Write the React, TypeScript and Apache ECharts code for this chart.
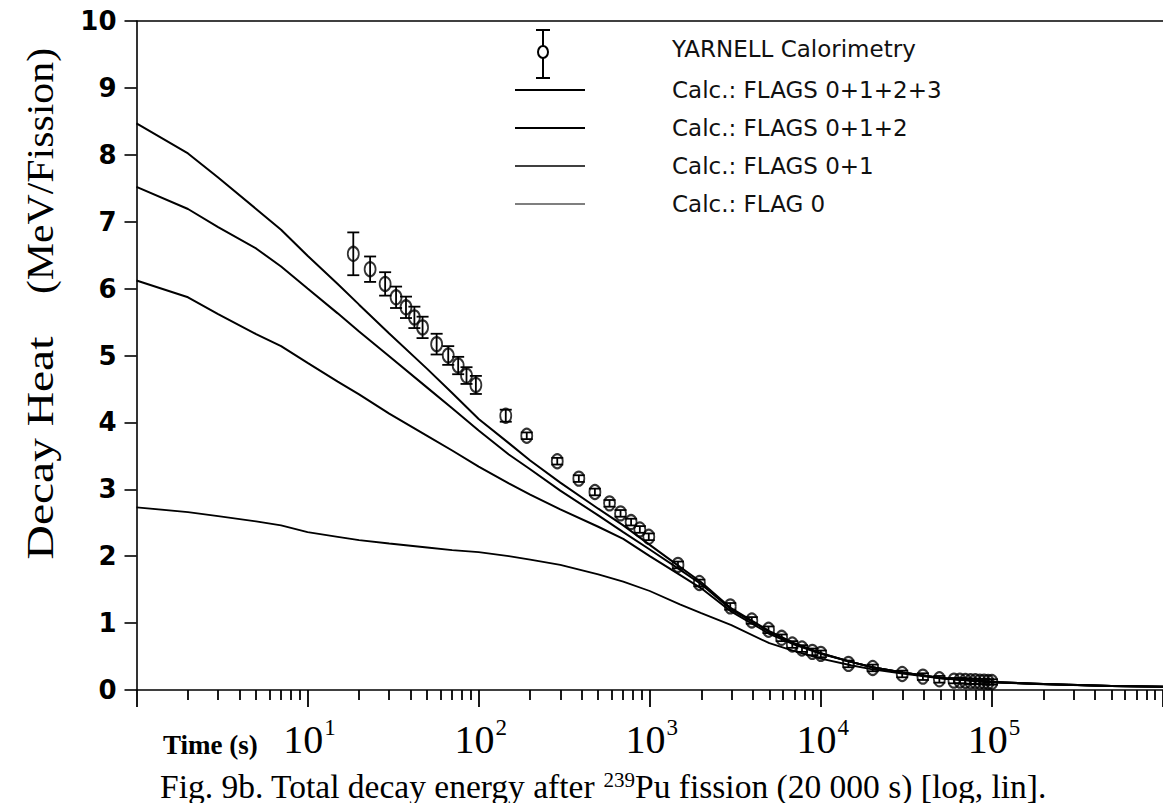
import React, { useEffect, useRef } from "react";
import * as echarts from "echarts";

// ---- data ----
const curveTimes = [1, 2, 3, 5, 7, 10, 15, 20, 30, 50, 70, 100, 150, 200, 300, 500, 700, 1000, 1500, 2000, 3000, 5000, 7000, 10000, 15000, 20000, 30000, 50000, 100000, 200000, 500000, 1000000];
const flags0123 = [8.47, 8.02, 7.66, 7.19, 6.88, 6.49, 6.07, 5.76, 5.33, 4.8, 4.44, 4.05, 3.69, 3.43, 3.1, 2.71, 2.46, 2.17, 1.84, 1.61, 1.22, 0.88, 0.7, 0.55, 0.42, 0.34, 0.26, 0.18, 0.12, 0.09, 0.06, 0.05];
const flags012 = [7.52, 7.19, 6.92, 6.6, 6.33, 6.0, 5.63, 5.36, 4.99, 4.52, 4.21, 3.88, 3.52, 3.3, 2.98, 2.61, 2.36, 2.1, 1.8, 1.58, 1.2, 0.87, 0.69, 0.55, 0.42, 0.34, 0.26, 0.18, 0.12, 0.09, 0.06, 0.05];
const flags01 = [6.12, 5.87, 5.62, 5.32, 5.14, 4.89, 4.61, 4.42, 4.13, 3.8, 3.58, 3.34, 3.09, 2.92, 2.7, 2.44, 2.26, 2.0, 1.72, 1.52, 1.17, 0.84, 0.68, 0.54, 0.42, 0.34, 0.26, 0.18, 0.12, 0.09, 0.06, 0.05];
const flag0 = [2.73, 2.66, 2.6, 2.52, 2.46, 2.36, 2.29, 2.24, 2.19, 2.13, 2.09, 2.06, 2.0, 1.95, 1.87, 1.73, 1.62, 1.48, 1.28, 1.15, 0.97, 0.7, 0.58, 0.47, 0.37, 0.31, 0.245, 0.175, 0.115, 0.085, 0.06, 0.05];

const yarnellTimes = [18.5, 23.2, 28.4, 32.9, 37.6, 42.1, 47.0, 56.8, 66.4, 75.9, 84.9, 96.3, 144, 191, 288, 385, 478, 582, 675, 778, 875, 987, 1462, 1950, 2955, 3950, 4945, 5900, 6810, 7760, 8920, 10000, 14500, 20100, 29900, 39500, 49300, 60000, 65000, 70000, 75000, 80000, 85000, 90000, 95000, 100000];
const yarnellHeat = [6.52, 6.29, 6.07, 5.87, 5.72, 5.57, 5.42, 5.17, 5.0, 4.85, 4.7, 4.56, 4.1, 3.8, 3.42, 3.16, 2.96, 2.79, 2.64, 2.51, 2.4, 2.29, 1.87, 1.6, 1.25, 1.04, 0.9, 0.78, 0.68, 0.62, 0.57, 0.54, 0.39, 0.33, 0.24, 0.2, 0.16, 0.14, 0.14, 0.135, 0.13, 0.13, 0.125, 0.125, 0.12, 0.12];
const yarnellError = [0.32, 0.19, 0.175, 0.16, 0.16, 0.16, 0.16, 0.155, 0.14, 0.13, 0.125, 0.135, 0.09, 0.05, 0.05, 0.05, 0.05, 0.05, 0.05, 0.05, 0.05, 0.05, 0.05, 0.05, 0.05, 0.05, 0.05, 0.05, 0.05, 0.05, 0.05, 0.05, 0.05, 0.05, 0.05, 0.05, 0.05, 0.04, 0.04, 0.04, 0.04, 0.04, 0.04, 0.04, 0.04, 0.04];

const xLabelValues = [10, 100, 1000, 10000, 100000];
const xMajorTicks = [1, 10, 100, 1000, 10000, 100000, 1000000];
const xMinorTicks = [
  2, 3, 4, 5, 6, 7, 8, 9,
  20, 30, 40, 50, 60, 70, 80, 90,
  200, 300, 400, 500, 600, 700, 800, 900,
  2000, 3000, 4000, 5000, 6000, 7000, 8000, 9000,
  20000, 30000, 40000, 50000, 60000, 70000, 80000, 90000,
  200000, 300000, 400000, 500000, 600000, 700000, 800000, 900000,
];
const legendLabels = [
  "YARNELL Calorimetry",
  "Calc.: FLAGS 0+1+2+3",
  "Calc.: FLAGS 0+1+2",
  "Calc.: FLAGS 0+1",
  "Calc.: FLAG 0",
];
const seriesNames = legendLabels;

const GRID = { left: 136.5, top: 21, width: 1029, height: 669 };
const SERIF = "Liberation Serif";
const SANS = "DejaVu Sans";

function pairs(xs: number[], ys: number[]) {
  return xs.map((x, i) => [x, ys[i]]);
}

function buildOption(): any {
  const lineStyle = (w: number) => ({ color: "#000", width: w });
  const curve = (name: string, ys: number[], w: number) => ({
    name,
    type: "line",
    xAxisIndex: 0,
    yAxisIndex: 0,
    data: pairs(curveTimes, ys),
    showSymbol: false,
    symbol: "none",
    lineStyle: lineStyle(w),
    z: 3,
  });

  const legendRowsY = [49, 90, 128, 166, 204];
  const legendLineX1 = 515;
  const legendLineX2 = 585;
  const legendTextX = 672;
  const legendGraphics: any[] = [];
  legendGraphics.push(
    { type: "line", shape: { x1: 543, y1: 30, x2: 543, y2: 78 }, style: { stroke: "#000", lineWidth: 2 } },
    { type: "line", shape: { x1: 536, y1: 30, x2: 550, y2: 30 }, style: { stroke: "#000", lineWidth: 2 } },
    { type: "line", shape: { x1: 536, y1: 78, x2: 550, y2: 78 }, style: { stroke: "#000", lineWidth: 2 } },
    { type: "ellipse", shape: { cx: 543, cy: 52, rx: 5, ry: 6 }, style: { stroke: "#000", fill: "#fff", lineWidth: 2 } }
  );
  const legendWidths = [2, 1.8, 1.6, 1.2];
  for (let i = 1; i < legendLabels.length; i++) {
    legendGraphics.push({
      type: "line",
      shape: { x1: legendLineX1, y1: legendRowsY[i], x2: legendLineX2, y2: legendRowsY[i] },
      style: { stroke: "#000", lineWidth: legendWidths[i - 1] },
    });
  }
  for (let i = 0; i < legendLabels.length; i++) {
    legendGraphics.push({
      type: "text",
      x: legendTextX,
      y: legendRowsY[i],
      style: {
        text: legendLabels[i],
        fontFamily: SANS,
        fontSize: 23,
        fill: "#111",
        verticalAlign: "middle",
        align: "left",
      },
    });
  }

  return {
    animation: false,
    backgroundColor: "#fff",
    grid: [
      { ...GRID, containLabel: false },
      { ...GRID, containLabel: false },
    ],
    xAxis: [
      {
        type: "log",
        logBase: 10,
        min: 1,
        max: 1000000,
        gridIndex: 0,
        position: "bottom",
        axisLine: { show: true, lineStyle: { color: "#000", width: 1.6 } },
        axisTick: { show: true, inside: false, length: 17, customValues: xMajorTicks, lineStyle: { color: "#000", width: 1.8 } },
        axisLabel: {
          show: true,
          customValues: xLabelValues,
          margin: 26,
          fontFamily: SERIF,
          fontSize: 40,
          color: "#000",
          formatter: (v: number) => `{b|10}{s|${Math.round(Math.log10(v))}}`,
          rich: {
            b: { fontFamily: SERIF, fontSize: 40, color: "#000", lineHeight: 40, padding: [6, 0, 0, 4] },
            s: { fontFamily: SERIF, fontSize: 23, color: "#000", lineHeight: 22, verticalAlign: "top", padding: [0, 0, 0, 1] },
          },
        },
        splitLine: { show: false },
        minorTick: { show: false },
      },
      {
        type: "log",
        logBase: 10,
        min: 1,
        max: 1000000,
        gridIndex: 1,
        position: "bottom",
        axisLine: { show: false },
        axisTick: { show: true, inside: false, length: 10, customValues: xMinorTicks, lineStyle: { color: "#000", width: 1.8 } },
        axisLabel: { show: false },
        splitLine: { show: false },
      },
      {
        type: "log",
        logBase: 10,
        min: 1,
        max: 1000000,
        gridIndex: 0,
        position: "top",
        axisLine: { show: true, lineStyle: { color: "#000", width: 1.6 } },
        axisTick: { show: false },
        axisLabel: { show: false },
        splitLine: { show: false },
      },
    ],
    yAxis: [
      {
        type: "value",
        gridIndex: 0,
        min: 0,
        max: 10,
        interval: 1,
        axisLine: { show: true, lineStyle: { color: "#000", width: 1.6 } },
        axisTick: { show: true, inside: false, length: 12, lineStyle: { color: "#000", width: 1.6 } },
        axisLabel: { show: true, margin: 20, fontFamily: SANS, fontWeight: "bold", fontSize: 26, color: "#000" },
        splitLine: { show: false },
      },
      {
        type: "value",
        gridIndex: 1,
        min: 0,
        max: 10,
        interval: 1,
        show: false,
      },
    ],
    series: [
      curve(seriesNames[1], flags0123, 2),
      curve(seriesNames[2], flags012, 2),
      curve(seriesNames[3], flags01, 2),
      curve(seriesNames[4], flag0, 1.8),
      {
        name: seriesNames[0] + " error",
        type: "custom",
        xAxisIndex: 0,
        yAxisIndex: 0,
        data: yarnellTimes.map((t, i) => [t, yarnellHeat[i], yarnellError[i]]),
        encode: { x: 0, y: 1 },
        z: 4,
        renderItem: (_params: any, api: any) => {
          const t = api.value(0);
          const y = api.value(1);
          const e = api.value(2);
          const top = api.coord([t, y + e]);
          const bot = api.coord([t, y - e]);
          const hw = 6;
          const st = { stroke: "#000", lineWidth: 1.8 };
          return {
            type: "group",
            children: [
              { type: "line", shape: { x1: top[0], y1: top[1], x2: bot[0], y2: bot[1] }, style: st },
              { type: "line", shape: { x1: top[0] - hw, y1: top[1], x2: top[0] + hw, y2: top[1] }, style: st },
              { type: "line", shape: { x1: bot[0] - hw, y1: bot[1], x2: bot[0] + hw, y2: bot[1] }, style: st },
            ],
          };
        },
      },
      {
        name: seriesNames[0],
        type: "scatter",
        xAxisIndex: 0,
        yAxisIndex: 0,
        data: pairs(yarnellTimes, yarnellHeat),
        symbol: "circle",
        symbolSize: [11, 14],
        itemStyle: { color: "rgba(0,0,0,0)", borderColor: "#000", borderWidth: 2 },
        z: 5,
      },
    ],
    graphic: [
      {
        type: "text",
        x: 40,
        y: 448,
        rotation: Math.PI / 2,
        scaleX: 1.25,
        style: { text: "Decay Heat", fontFamily: SERIF, fontSize: 38, fill: "#000", align: "center", verticalAlign: "middle" },
      },
      {
        type: "text",
        x: 40,
        y: 171,
        rotation: Math.PI / 2,
        scaleX: 1.1,
        style: { text: "(MeV/Fission)", fontFamily: SERIF, fontSize: 38, fill: "#000", align: "center", verticalAlign: "middle" },
      },
      {
        type: "text",
        x: 163,
        y: 745,
        style: { text: "Time (s)", fontFamily: SERIF, fontWeight: "bold", fontSize: 27, fill: "#000", align: "left", verticalAlign: "middle" },
      },
      {
        type: "text",
        x: 160,
        y: 786,
        style: {
          text: "{a|Fig. 9b. Total decay energy after }{s|239}{a|Pu fission (20 000 s) [log, lin].}",
          fontFamily: SERIF,
          fontSize: 33.5,
          fill: "#000",
          rich: {
            a: { fontFamily: SERIF, fontSize: 33.5, fill: "#000", lineHeight: 34 },
            s: { fontFamily: SERIF, fontSize: 21, fill: "#000", lineHeight: 20, verticalAlign: "top" },
          },
          align: "left",
          verticalAlign: "middle",
        },
      },
      ...legendGraphics,
    ],
  };
}

export default function App() {
  const ref = useRef<HTMLDivElement>(null);
  useEffect(() => {
    if (!ref.current) return;
    const chart = echarts.init(ref.current, null, { renderer: "svg" });
    chart.setOption(buildOption());
    return () => chart.dispose();
  }, []);
  return (
    <div
      ref={ref}
      style={{ position: "fixed", left: 0, top: 0, width: 1163, height: 803, background: "#fff" }}
    />
  );
}
